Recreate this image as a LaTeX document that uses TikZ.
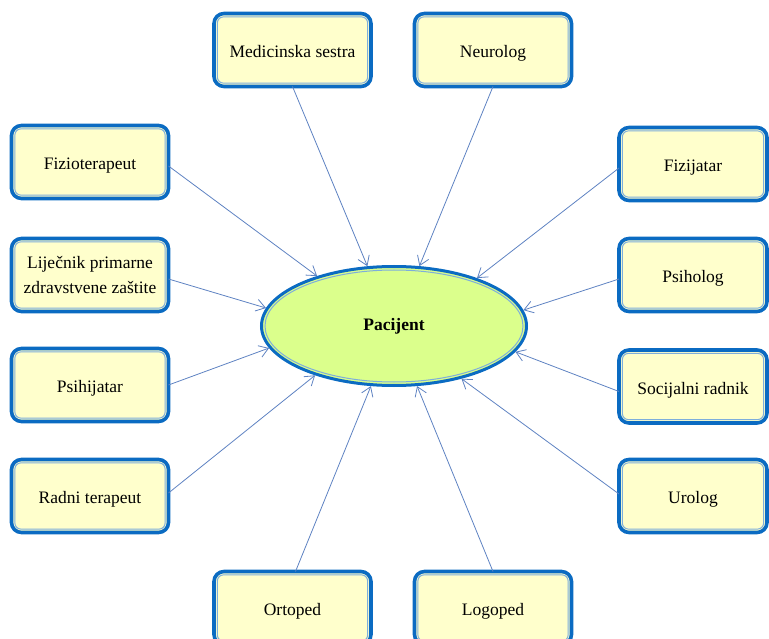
\documentclass[tikz,border=0pt]{standalone}
\usepackage{fontspec}
\setmainfont{Liberation Serif}
\usetikzlibrary{shapes.geometric,arrows.meta}
\definecolor{bdark}{HTML}{0B6BC2}
\definecolor{blight}{HTML}{7EAEDB}
\definecolor{boxfill}{HTML}{FFFFCC}
\definecolor{ellfill}{HTML}{DBFF8C}
\definecolor{arr}{HTML}{5E82C2}
\begin{document}
\begin{tikzpicture}[x=1pt,y=-1pt,
  box/.style={rectangle, rounded corners=10pt, draw=bdark, line width=3.6pt, fill=boxfill,
    align=center, font=\fontsize{17.5}{25}\selectfont, inner sep=0pt, outer sep=0pt,
    minimum width=157pt, minimum height=73pt, text depth=0pt},
  rbox/.style={box, minimum width=148pt},
  inner/.style={draw=blight, line width=1pt, rounded corners=6pt},
  conn/.style={draw=arr, line width=0.8pt, -{Straight Barb[length=9pt,width=12pt]}}
]
\useasboundingbox (0,0) rectangle (769,639);

\node[box] (ms) at (292.5,50) {\raisebox{-3pt}{Medicinska sestra}};
\node[box] (ne) at (493,50) {\raisebox{-3pt}{Neurolog}};
\node[box] (fz) at (90,162) {\raisebox{-3pt}{Fizioterapeut}};
\node[box] (lj) at (90,275) {Liječnik primarne\\zdravstvene zaštite};
\node[box] (pj) at (90,385) {\raisebox{-3pt}{Psihijatar}};
\node[box] (rt) at (90,496) {\raisebox{-3pt}{Radni terapeut}};
\node[rbox] (fj) at (693,164) {\raisebox{-3pt}{Fizijatar}};
\node[rbox] (ps) at (693,275) {\raisebox{-3pt}{Psiholog}};
\node[rbox] (sr) at (693,386.5) {\raisebox{-3pt}{Socijalni radnik}};
\node[rbox] (ur) at (693,496) {\raisebox{-3pt}{Urolog}};
\node[box] (or) at (292.5,608) {\raisebox{-3pt}{Ortoped}};
\node[box] (lo) at (493,608) {\raisebox{-3pt}{Logoped}};

\foreach \n in {ms,ne,fz,lj,pj,rt,fj,ps,sr,ur,or,lo}
  \draw[inner] ([shift={(3.4pt,3.4pt)}]\n.south west) rectangle ([shift={(-3.4pt,-3.4pt)}]\n.north east);

\node[ellipse, draw=bdark, line width=3pt, fill=ellfill, minimum width=265pt,
  minimum height=119pt, inner sep=0pt,
  font=\bfseries\fontsize{17.5}{20}\selectfont] (P) at (394,326) {Pacijent};
\draw[blight, line width=1pt] (P.center) ellipse [x radius=129pt, y radius=56pt];

\draw[conn] (ms.south) -- (P.114.6);
\draw[conn] (ne.south) -- (P.67.9);
\draw[conn] ([yshift=-4pt]fz.east) -- (P.147.6);
\draw[conn] ([yshift=-4pt]lj.east) -- (P.172.3);
\draw[conn] (pj.east) -- (P.190.7);
\draw[conn] ([yshift=3pt]rt.east) -- (P.212.5);
\draw[conn] ([yshift=-4pt]fj.west) -- (P.30.5);
\draw[conn] ([yshift=-4pt]ps.west) -- (P.7.8);
\draw[conn] ([yshift=-5pt]sr.west) -- (P.348.3);
\draw[conn] ([yshift=2pt]ur.west) -- (P.322.7);
\draw[conn] ([xshift=3pt]or.north) -- (P.249);
\draw[conn] (lo.north) -- (P.291);
\end{tikzpicture}
\end{document}
